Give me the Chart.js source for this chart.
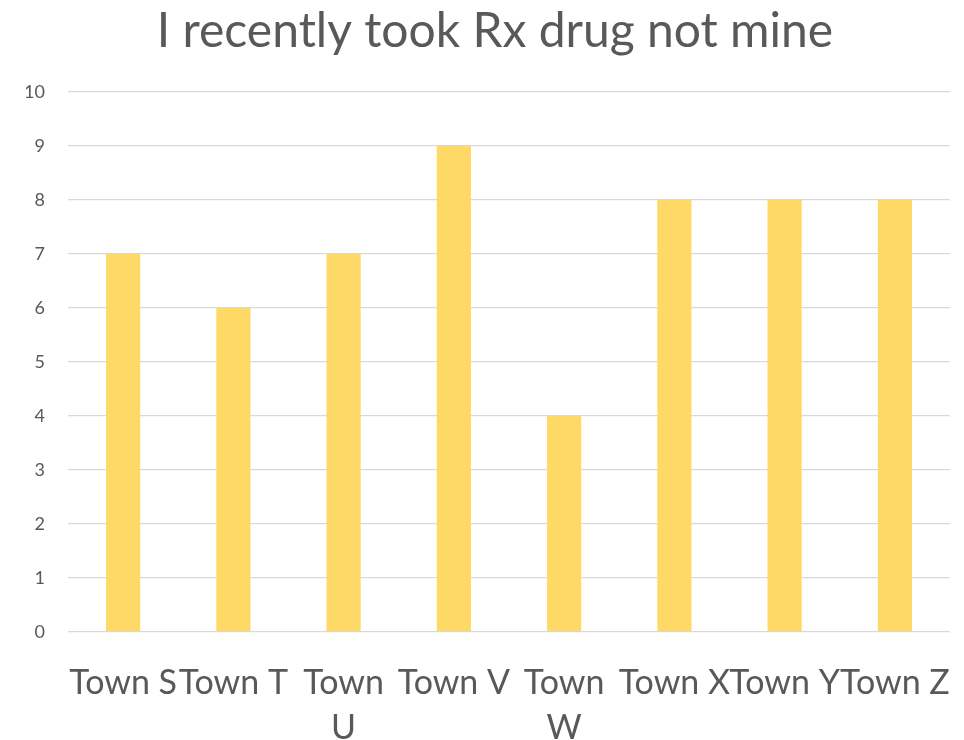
<!DOCTYPE html>
<html>
<head>
<meta charset="utf-8">
<script src="https://cdn.jsdelivr.net/npm/chart.js@4"></script>
<style>
  html, body { margin: 0; padding: 0; background: #fff; }
  #wrap { width: 964px; height: 740px; }
</style>
</head>
<body>
<div id="wrap"><canvas id="myChart"></canvas></div>
<script>
const titleText = 'I recently took Rx drug not mine';
const towns = ['Town S', 'Town T', ['Town', 'U'], 'Town V', ['Town', 'W'], 'Town X', 'Town Y', 'Town Z'];
const counts = [7, 6, 7, 9, 4, 8, 8, 8];
const yTicks = [0, 1, 2, 3, 4, 5, 6, 7, 8, 9, 10];

// title drawn by hand so it can sit slightly right of the plot centre, like the original
const titleDraw = {
    id: 'titleDraw',
    afterDraw(chart) {
        const c = chart.ctx;
        c.save();
        c.fillStyle = '#595959';
        c.font = '48px Lato';
        c.textAlign = 'center';
        c.textBaseline = 'middle';
        c.fillText(titleText, 495, 32);
        c.restore();
    }
};

const ctx = document.getElementById('myChart').getContext('2d');
const chart = new Chart(ctx, {
    type: 'bar',
    data: {
        labels: towns,
        datasets: [{
            label: titleText,
            data: counts,
            backgroundColor: '#FFD966',
            categoryPercentage: 1,
            barPercentage: 0.31
        }]
    },
    options: {
        responsive: true,
        maintainAspectRatio: false,
        animation: false,
        layout: { padding: { left: 26, right: 0, top: 92, bottom: 0 } },
        plugins: {
            legend: { display: false },
            tooltip: { enabled: false },
            title: { display: false }
        },
        scales: {
            x: {
                grid: { display: false, drawTicks: false },
                border: { display: false },
                afterFit: axis => { axis.height = 108; axis.paddingRight = 14; axis.paddingLeft = 0; },
                ticks: {
                    color: '#595959',
                    font: { family: 'Lato', size: 34, lineHeight: 1.33 },
                    maxRotation: 0,
                    autoSkip: false,
                    padding: 28
                }
            },
            y: {
                min: 0,
                max: 10,
                afterBuildTicks: axis => { axis.ticks = yTicks.map(v => ({ value: v })); },
                afterFit: axis => { axis.width = 42; axis.paddingTop = 0; },
                grid: { color: '#D9D9D9', lineWidth: 1.3, drawTicks: false },
                border: { display: false },
                ticks: {
                    color: '#595959',
                    font: { family: 'Lato', size: 18 },
                    padding: 23
                }
            }
        }
    },
    plugins: [titleDraw]
});
</script>
</body>
</html>
